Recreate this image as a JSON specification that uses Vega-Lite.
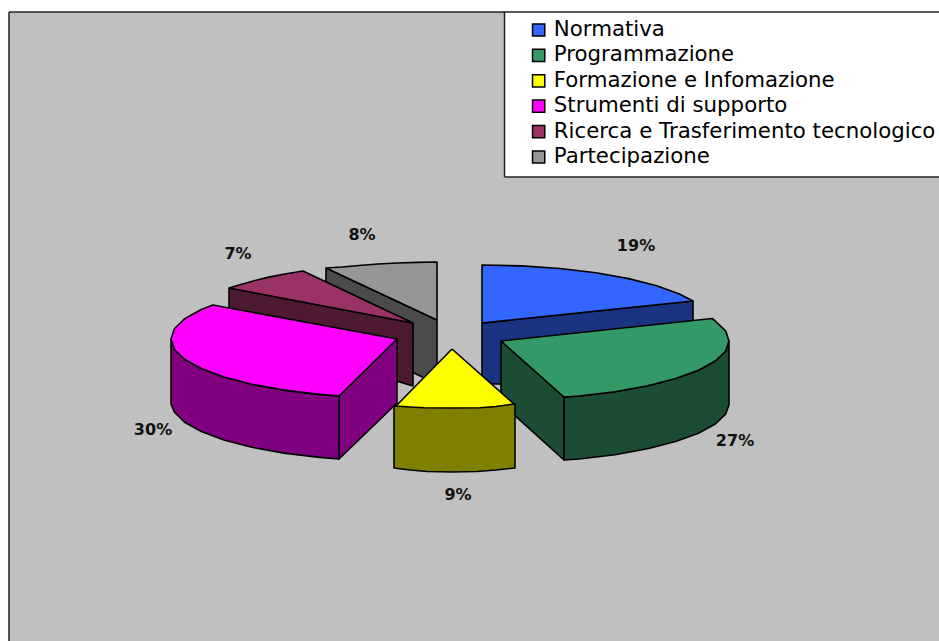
{"$schema":"https://vega.github.io/schema/vega-lite/v6.json","width":930,"height":629,"autosize":"none","padding":{"left":9,"top":12,"right":0,"bottom":0},"background":"#FFFFFF","config":{"view":{"fill":"#C0C0C0","stroke":null}},"datasets":{"legendbox":[{"x":504.5,"x2":939,"y":12,"y2":177}],"frame":[{"x":9,"x2":939,"y":12,"y2":12},{"x":9,"x2":9,"y":12,"y2":641},{"x":504.5,"x2":504.5,"y":12,"y2":177},{"x":504.5,"x2":939,"y":177,"y2":177}],"labels":[{"slice":"Normativa","share":0.19,"x":636,"y":245},{"slice":"Programmazione","share":0.27,"x":735,"y":440},{"slice":"Formazione e Infomazione","share":0.09,"x":458,"y":494},{"slice":"Strumenti di supporto","share":0.30,"x":153,"y":429},{"slice":"Ricerca e Trasferimento tecnologico","share":0.07,"x":238,"y":253},{"slice":"Partecipazione","share":0.08,"x":362,"y":234}],"faces":[
{"face":"g1","key":"Partecipazione lato","i":1,"x":326,"y":268},{"face":"g1","key":"Partecipazione lato","i":2,"x":437,"y":320},{"face":"g1","key":"Partecipazione lato","i":3,"x":437,"y":384},{"face":"g1","key":"Partecipazione lato","i":4,"x":326,"y":331},{"face":"g1","key":"Partecipazione lato","i":5,"x":326,"y":268},
{"face":"g2","key":"Partecipazione","i":1,"x":437,"y":320},{"face":"g2","key":"Partecipazione","i":2,"x":326,"y":268},{"face":"g2","key":"Partecipazione","i":3,"x":342,"y":267},{"face":"g2","key":"Partecipazione","i":4,"x":359,"y":265.5},{"face":"g2","key":"Partecipazione","i":5,"x":378,"y":264},{"face":"g2","key":"Partecipazione","i":6,"x":397,"y":263},{"face":"g2","key":"Partecipazione","i":7,"x":417,"y":262.4},{"face":"g2","key":"Partecipazione","i":8,"x":437,"y":262},{"face":"g2","key":"Partecipazione","i":9,"x":437,"y":320},
{"face":"r1","key":"Ricerca e Trasferimento tecnologico lato","i":1,"x":229,"y":288},{"face":"r1","key":"Ricerca e Trasferimento tecnologico lato","i":2,"x":413,"y":323},{"face":"r1","key":"Ricerca e Trasferimento tecnologico lato","i":3,"x":413,"y":386},{"face":"r1","key":"Ricerca e Trasferimento tecnologico lato","i":4,"x":229,"y":331},{"face":"r1","key":"Ricerca e Trasferimento tecnologico lato","i":5,"x":229,"y":288},
{"face":"r2","key":"Ricerca e Trasferimento tecnologico","i":1,"x":413,"y":323},{"face":"r2","key":"Ricerca e Trasferimento tecnologico","i":2,"x":229,"y":288},{"face":"r2","key":"Ricerca e Trasferimento tecnologico","i":3,"x":239.9,"y":284.7},{"face":"r2","key":"Ricerca e Trasferimento tecnologico","i":4,"x":253.2,"y":280.9},{"face":"r2","key":"Ricerca e Trasferimento tecnologico","i":5,"x":267.7,"y":277.4},{"face":"r2","key":"Ricerca e Trasferimento tecnologico","i":6,"x":283.3,"y":274.3},{"face":"r2","key":"Ricerca e Trasferimento tecnologico","i":7,"x":303,"y":271},{"face":"r2","key":"Ricerca e Trasferimento tecnologico","i":8,"x":413,"y":323},
{"face":"s1","key":"Strumenti di supporto lato","i":1,"x":339,"y":396},{"face":"s1","key":"Strumenti di supporto lato","i":2,"x":397,"y":339},{"face":"s1","key":"Strumenti di supporto lato","i":3,"x":397,"y":403},{"face":"s1","key":"Strumenti di supporto lato","i":4,"x":339,"y":459},{"face":"s1","key":"Strumenti di supporto lato","i":5,"x":339,"y":396},
{"face":"s2","key":"Strumenti di supporto lato","i":1,"x":171,"y":339},{"face":"s2","key":"Strumenti di supporto lato","i":2,"x":174.4,"y":349.2},{"face":"s2","key":"Strumenti di supporto lato","i":3,"x":184.6,"y":359.2},{"face":"s2","key":"Strumenti di supporto lato","i":4,"x":201.3,"y":368.5},{"face":"s2","key":"Strumenti di supporto lato","i":5,"x":223.9,"y":376.9},{"face":"s2","key":"Strumenti di supporto lato","i":6,"x":251.7,"y":384.2},{"face":"s2","key":"Strumenti di supporto lato","i":7,"x":284,"y":390.1},{"face":"s2","key":"Strumenti di supporto lato","i":8,"x":319.7,"y":394.4},{"face":"s2","key":"Strumenti di supporto lato","i":9,"x":339,"y":396},{"face":"s2","key":"Strumenti di supporto lato","i":10,"x":339,"y":459},{"face":"s2","key":"Strumenti di supporto lato","i":11,"x":319.7,"y":457.4},{"face":"s2","key":"Strumenti di supporto lato","i":12,"x":284,"y":453.1},{"face":"s2","key":"Strumenti di supporto lato","i":13,"x":251.7,"y":447.2},{"face":"s2","key":"Strumenti di supporto lato","i":14,"x":223.9,"y":439.9},{"face":"s2","key":"Strumenti di supporto lato","i":15,"x":201.3,"y":431.5},{"face":"s2","key":"Strumenti di supporto lato","i":16,"x":184.6,"y":422.2},{"face":"s2","key":"Strumenti di supporto lato","i":17,"x":174.4,"y":412.2},{"face":"s2","key":"Strumenti di supporto lato","i":18,"x":171,"y":404},{"face":"s2","key":"Strumenti di supporto lato","i":19,"x":171,"y":339},
{"face":"s3","key":"Strumenti di supporto","i":1,"x":397,"y":339},{"face":"s3","key":"Strumenti di supporto","i":2,"x":213,"y":305},{"face":"s3","key":"Strumenti di supporto","i":3,"x":201.3,"y":309.5},{"face":"s3","key":"Strumenti di supporto","i":4,"x":184.6,"y":318.8},{"face":"s3","key":"Strumenti di supporto","i":5,"x":174.4,"y":328.8},{"face":"s3","key":"Strumenti di supporto","i":6,"x":171,"y":339},{"face":"s3","key":"Strumenti di supporto","i":7,"x":174.4,"y":349.2},{"face":"s3","key":"Strumenti di supporto","i":8,"x":184.6,"y":359.2},{"face":"s3","key":"Strumenti di supporto","i":9,"x":201.3,"y":368.5},{"face":"s3","key":"Strumenti di supporto","i":10,"x":223.9,"y":376.9},{"face":"s3","key":"Strumenti di supporto","i":11,"x":251.7,"y":384.2},{"face":"s3","key":"Strumenti di supporto","i":12,"x":284,"y":390.1},{"face":"s3","key":"Strumenti di supporto","i":13,"x":319.7,"y":394.4},{"face":"s3","key":"Strumenti di supporto","i":14,"x":339,"y":396},{"face":"s3","key":"Strumenti di supporto","i":15,"x":397,"y":339},
{"face":"n1","key":"Normativa lato","i":1,"x":482,"y":323},{"face":"n1","key":"Normativa lato","i":2,"x":693,"y":301},{"face":"n1","key":"Normativa lato","i":3,"x":693,"y":325},{"face":"n1","key":"Normativa lato","i":4,"x":500,"y":384},{"face":"n1","key":"Normativa lato","i":5,"x":482,"y":384},{"face":"n1","key":"Normativa lato","i":6,"x":482,"y":323},
{"face":"n2","key":"Normativa","i":1,"x":482,"y":323},{"face":"n2","key":"Normativa","i":2,"x":482,"y":265},{"face":"n2","key":"Normativa","i":3,"x":521.6,"y":265.9},{"face":"n2","key":"Normativa","i":4,"x":560,"y":268.5},{"face":"n2","key":"Normativa","i":5,"x":596,"y":272.8},{"face":"n2","key":"Normativa","i":6,"x":628.6,"y":278.6},{"face":"n2","key":"Normativa","i":7,"x":656.7,"y":285.7},{"face":"n2","key":"Normativa","i":8,"x":679.4,"y":294},{"face":"n2","key":"Normativa","i":9,"x":693,"y":301},{"face":"n2","key":"Normativa","i":10,"x":482,"y":323},
{"face":"p1","key":"Programmazione lato","i":1,"x":501,"y":341},{"face":"p1","key":"Programmazione lato","i":2,"x":564,"y":397},{"face":"p1","key":"Programmazione lato","i":3,"x":564,"y":460},{"face":"p1","key":"Programmazione lato","i":4,"x":501,"y":403},{"face":"p1","key":"Programmazione lato","i":5,"x":501,"y":341},
{"face":"p2","key":"Programmazione lato","i":1,"x":729,"y":341},{"face":"p2","key":"Programmazione lato","i":2,"x":725.6,"y":351.2},{"face":"p2","key":"Programmazione lato","i":3,"x":715.3,"y":361},{"face":"p2","key":"Programmazione lato","i":4,"x":698.4,"y":370.3},{"face":"p2","key":"Programmazione lato","i":5,"x":675.6,"y":378.6},{"face":"p2","key":"Programmazione lato","i":6,"x":647.6,"y":385.8},{"face":"p2","key":"Programmazione lato","i":7,"x":615,"y":391.7},{"face":"p2","key":"Programmazione lato","i":8,"x":579,"y":396},{"face":"p2","key":"Programmazione lato","i":9,"x":564,"y":397},{"face":"p2","key":"Programmazione lato","i":10,"x":564,"y":460},{"face":"p2","key":"Programmazione lato","i":11,"x":579,"y":459},{"face":"p2","key":"Programmazione lato","i":12,"x":615,"y":454.7},{"face":"p2","key":"Programmazione lato","i":13,"x":647.6,"y":448.8},{"face":"p2","key":"Programmazione lato","i":14,"x":675.6,"y":441.6},{"face":"p2","key":"Programmazione lato","i":15,"x":698.4,"y":433.3},{"face":"p2","key":"Programmazione lato","i":16,"x":715.3,"y":424},{"face":"p2","key":"Programmazione lato","i":17,"x":725.6,"y":414.2},{"face":"p2","key":"Programmazione lato","i":18,"x":729,"y":405},{"face":"p2","key":"Programmazione lato","i":19,"x":729,"y":341},
{"face":"p3","key":"Programmazione","i":1,"x":501,"y":341},{"face":"p3","key":"Programmazione","i":2,"x":712,"y":318.5},{"face":"p3","key":"Programmazione","i":3,"x":715.3,"y":321},{"face":"p3","key":"Programmazione","i":4,"x":725.6,"y":330.8},{"face":"p3","key":"Programmazione","i":5,"x":729,"y":341},{"face":"p3","key":"Programmazione","i":6,"x":725.6,"y":351.2},{"face":"p3","key":"Programmazione","i":7,"x":715.3,"y":361},{"face":"p3","key":"Programmazione","i":8,"x":698.4,"y":370.3},{"face":"p3","key":"Programmazione","i":9,"x":675.6,"y":378.6},{"face":"p3","key":"Programmazione","i":10,"x":647.6,"y":385.8},{"face":"p3","key":"Programmazione","i":11,"x":615,"y":391.7},{"face":"p3","key":"Programmazione","i":12,"x":579,"y":396},{"face":"p3","key":"Programmazione","i":13,"x":564,"y":397},{"face":"p3","key":"Programmazione","i":14,"x":501,"y":341},
{"face":"y1","key":"Formazione e Infomazione lato","i":1,"x":394,"y":406},{"face":"y1","key":"Formazione e Infomazione lato","i":2,"x":394,"y":468},{"face":"y1","key":"Formazione e Infomazione lato","i":3,"x":410,"y":470},{"face":"y1","key":"Formazione e Infomazione lato","i":4,"x":427,"y":471.5},{"face":"y1","key":"Formazione e Infomazione lato","i":5,"x":452,"y":472},{"face":"y1","key":"Formazione e Infomazione lato","i":6,"x":477,"y":471.5},{"face":"y1","key":"Formazione e Infomazione lato","i":7,"x":496,"y":470},{"face":"y1","key":"Formazione e Infomazione lato","i":8,"x":515,"y":468},{"face":"y1","key":"Formazione e Infomazione lato","i":9,"x":515,"y":404},{"face":"y1","key":"Formazione e Infomazione lato","i":10,"x":394,"y":406},
{"face":"y2","key":"Formazione e Infomazione","i":1,"x":452,"y":349},{"face":"y2","key":"Formazione e Infomazione","i":2,"x":396,"y":406},{"face":"y2","key":"Formazione e Infomazione","i":3,"x":410,"y":407},{"face":"y2","key":"Formazione e Infomazione","i":4,"x":424,"y":407.7},{"face":"y2","key":"Formazione e Infomazione","i":5,"x":452,"y":408},{"face":"y2","key":"Formazione e Infomazione","i":6,"x":480,"y":407.7},{"face":"y2","key":"Formazione e Infomazione","i":7,"x":496,"y":406.5},{"face":"y2","key":"Formazione e Infomazione","i":8,"x":514,"y":404},{"face":"y2","key":"Formazione e Infomazione","i":9,"x":452,"y":349}
]},
"encoding":{"x":{"field":"x","type":"quantitative","axis":null,"scale":{"domain":[9,939],"nice":false,"zero":false}},"y":{"field":"y","type":"quantitative","axis":null,"scale":{"domain":[641,12],"nice":false,"zero":false}}},
"layer":[
{"data":{"name":"legendbox"},"mark":{"type":"rect","fill":"#FFFFFF"},"encoding":{"x2":{"field":"x2"},"y2":{"field":"y2"}}},
{"data":{"name":"frame"},"mark":{"type":"rule","color":"#222222","strokeWidth":1.5},"encoding":{"x2":{"field":"x2"},"y2":{"field":"y2"}}},
{"data":{"name":"faces"},"mark":{"type":"line","stroke":"#000000","strokeWidth":1.6,"strokeJoin":"round","interpolate":"linear"},"encoding":{"detail":{"field":"face"},"order":{"field":"i"},"fill":{"field":"key","type":"nominal","scale":{"domain":["Normativa","Programmazione","Formazione e Infomazione","Strumenti di supporto","Ricerca e Trasferimento tecnologico","Partecipazione","Normativa lato","Programmazione lato","Formazione e Infomazione lato","Strumenti di supporto lato","Ricerca e Trasferimento tecnologico lato","Partecipazione lato"],"range":["#3366FF","#339966","#FFFF00","#FF00FF","#993366","#969696","#1A3380","#1A4D33","#808000","#800080","#4D1933","#4B4B4B"]},"legend":{"title":null,"values":["Normativa","Programmazione","Formazione e Infomazione","Strumenti di supporto","Ricerca e Trasferimento tecnologico","Partecipazione"],"orient":"none","legendX":519,"legendY":7,"padding":0,"symbolType":"square","symbolSize":150,"symbolStrokeColor":"#000000","symbolStrokeWidth":1.5,"symbolOpacity":1,"labelFont":"DejaVu Sans","labelFontSize":21.3,"labelColor":"#000000","labelLimit":500,"labelOffset":4.5,"rowPadding":3.4,"clipHeight":22}}}},
{"data":{"name":"labels"},"mark":{"type":"text","font":"DejaVu Sans","fontWeight":"bold","fontSize":16,"color":"#111111","align":"center","baseline":"middle","dy":1},"encoding":{"text":{"field":"share","type":"quantitative","format":".0%"}}}
]}
